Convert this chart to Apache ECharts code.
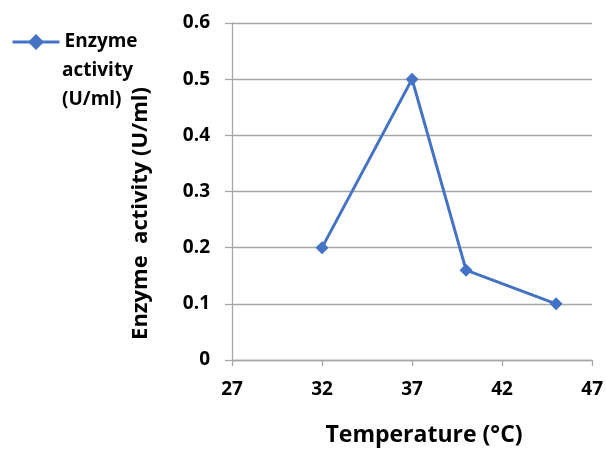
<!DOCTYPE html>
<html>
<head>
<meta charset="utf-8">
<script src="https://cdn.jsdelivr.net/npm/echarts@6/dist/echarts.min.js"></script>
<style>
  html, body { margin: 0; padding: 0; background: #fff; }
  #chart { width: 606px; height: 452px; }
</style>
</head>
<body>
<div id="chart"></div>
<script>
// Temperature (°C) vs measured enzyme activity
const temperatures = [32, 37, 40, 45];
const activity = [0.2, 0.5, 0.16, 0.1];
const seriesName = 'Enzyme activity (U/ml)';
// legend caption, wrapped over three lines
const legendLines = ['Enzyme', 'activity', '(U/ml)'];

const FONT = 'Open Sans';
const LEGEND_LINE = 29;
const LEGEND_Y = 42;
const chart = echarts.init(document.getElementById('chart'), null, { renderer: 'canvas' });

chart.setOption({
  backgroundColor: '#ffffff',
  animation: false,
  textStyle: { fontFamily: FONT },
  grid: { left: 232, right: 11.5, top: 23, bottom: 89.5, containLabel: false },
  legend: {
    left: 11,
    top: LEGEND_Y - 14.5,
    padding: 0,
    itemWidth: 47,
    itemHeight: 20,
    data: [seriesName],
    formatter: () => legendLines[0],
    lineStyle: { width: 3 },
    textStyle: {
      fontFamily: FONT, fontWeight: 'bold', fontSize: 19, color: '#000',
      lineHeight: LEGEND_LINE
    }
  },
  // remaining lines of the legend caption
  graphic: legendLines.slice(1).map((line, i) => ({
    type: 'text',
    left: 62,
    top: LEGEND_Y + LEGEND_LINE * (i + 1) - 14.5,
    style: {
      text: line,
      fontFamily: FONT, fontWeight: 'bold', fontSize: 19, fill: '#000',
      lineHeight: LEGEND_LINE
    }
  })),
  xAxis: {
    type: 'value',
    min: 27, max: 47, interval: 5,
    name: 'Temperature (°C)',
    nameLocation: 'middle',
    nameGap: 64,
    nameTextStyle: { fontFamily: FONT, fontWeight: 'bold', fontSize: 23, color: '#000', padding: [0, 0, 0, 24] },
    axisLine: { show: true, lineStyle: { color: '#a6a6a6', width: 1.3 } },
    axisTick: { show: true, inside: false, length: 6, lineStyle: { color: '#a6a6a6', width: 1.3 } },
    axisLabel: { fontFamily: FONT, fontWeight: 'bold', fontSize: 19, color: '#000', margin: 20 },
    splitLine: { show: false }
  },
  yAxis: {
    type: 'value',
    min: 0, max: 0.6, interval: 0.1,
    name: 'Enzyme  activity (U/ml)',
    nameLocation: 'middle',
    nameGap: 80,
    nameRotate: 90,
    nameTextStyle: { fontFamily: FONT, fontWeight: 'bold', fontSize: 22, color: '#000', padding: [0, 44, 0, 0] },
    axisLine: { show: true, lineStyle: { color: '#a6a6a6', width: 1.3 } },
    axisTick: { show: true, inside: false, length: 7, lineStyle: { color: '#a6a6a6', width: 1.3 } },
    axisLabel: { fontFamily: FONT, fontWeight: 'bold', fontSize: 19, color: '#000', margin: 22,
      formatter: v => (v === 0 ? '0' : v.toFixed(1)) },
    splitLine: { show: true, lineStyle: { color: '#a6a6a6', width: 1.3 } }
  },
  series: [{
    name: seriesName,
    type: 'line',
    data: temperatures.map((t, i) => [t, activity[i]]),
    symbol: 'diamond',
    symbolSize: 13,
    lineStyle: { color: '#4472c4', width: 3 },
    itemStyle: { color: '#4472c4' }
  }]
});
</script>
</body>
</html>
